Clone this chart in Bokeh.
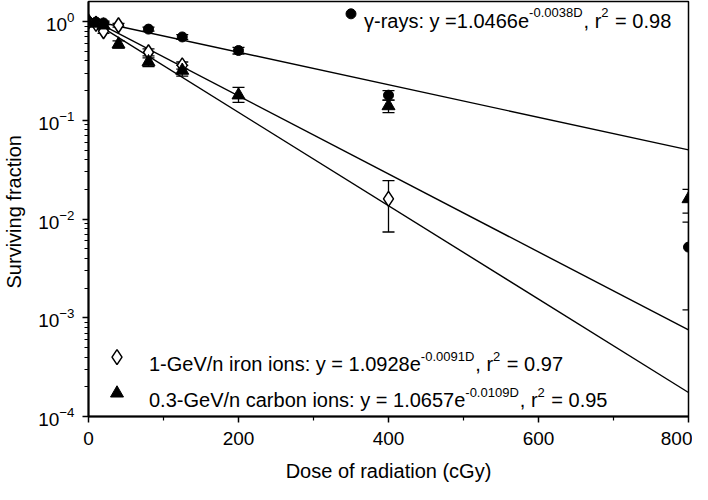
from bokeh.plotting import figure
from bokeh.models import (Range1d, FixedTicker, LogTicker, Whisker,
                          ColumnDataSource, Label, TeeHead)
from bokeh.embed import file_html
from bokeh.resources import INLINE

# ---------------- data ----------------
dose_gamma = [0, 10, 20, 80, 125, 200, 400, 800]
sf_gamma   = [1.00, 0.99, 0.97, 0.84, 0.70, 0.51, 0.18, 0.0052]
lo_gamma   = [0.94, 0.94, 0.93, 0.80, 0.66, 0.47, 0.16, 0.0012]
hi_gamma   = [1.06, 1.04, 1.01, 0.88, 0.74, 0.55, 0.20, 0.0093]

dose_iron = [0, 10, 20, 40, 80, 125, 400]
sf_iron   = [1.00, 0.95, 0.80, 0.92, 0.49, 0.36, 0.016]
lo_iron   = [0.95, 0.90, 0.76, 0.88, 0.45, 0.33, 0.0074]
hi_iron   = [1.05, 1.00, 0.84, 0.96, 0.53, 0.39, 0.0245]

dose_carbon = [0, 10, 20, 40, 80, 125, 200, 400, 800]
sf_carbon   = [1.00, 0.96, 0.92, 0.59, 0.39, 0.32, 0.18, 0.14, 0.016]
lo_carbon   = [0.94, 0.90, 0.86, 0.54, 0.35, 0.28, 0.152, 0.12, 0.0115]
hi_carbon   = [1.06, 1.02, 0.98, 0.64, 0.43, 0.36, 0.216, 0.16, 0.020]

fit_dose   = [0, 800]
fit_gamma  = [1.0466, 0.0503]
fit_iron   = [1.0928, 0.000753]
fit_carbon = [1.0657, 0.000175]

x_ticks = [0, 200, 400, 600, 800]
x_minor = [100, 300, 500, 700]

x_title = "Dose of radiation (cGy)"
y_title = "Surviving  fraction"

NB = "\u00a0"
legend_gamma = [("\u03b3-rays: y =1.0466e", 0), ("-0.0038D", 1), (", r", 0), ("2", 1), (NB + "= 0.98", 0)]
legend_iron = [("1-GeV/n iron ions: y = 1.0928e", 0), ("-0.0091D", 1), (", r", 0), ("2", 1), (NB + "= 0.97", 0)]
legend_carbon = [("0.3-GeV/n carbon ions: y = 1.0657e", 0), ("-0.0109D", 1), (", r", 0), ("2", 1), (NB + "= 0.95", 0)]

# ---------------- figure ----------------
FONT = "Liberation Sans"
p = figure(width=692, height=484, y_axis_type="log",
           x_range=Range1d(0, 800), y_range=Range1d(1e-4, 1.6),
           output_backend="svg", toolbar_location=None,
           min_border_left=78, min_border_right=4, min_border_top=1,
           min_border_bottom=60)
p.grid.visible = False
p.outline_line_color = "black"
p.outline_line_width = 1.5
p.background_fill_color = "white"
p.border_fill_color = "white"

p.xaxis.ticker = FixedTicker(ticks=x_ticks, minor_ticks=x_minor)
p.yaxis.ticker = LogTicker(num_minor_ticks=10)
for ax in (p.xaxis, p.yaxis):
    ax.axis_line_width = 2
    ax.axis_line_color = "black"
    ax.major_tick_line_width = 1.5
    ax.minor_tick_line_width = 1.2
    ax.major_tick_in = 0
    ax.minor_tick_in = 0
    ax.major_tick_out = 6
    ax.minor_tick_out = 4
    ax.major_label_text_font = FONT
    ax.major_label_text_font_size = "19px"
    ax.major_label_text_color = "black"
    ax.axis_label_text_font = FONT
    ax.axis_label_text_font_size = "20px"
    ax.axis_label_text_font_style = "normal"
    ax.axis_label_text_color = "black"
p.xaxis.major_label_standoff = 9
p.xaxis.axis_label_standoff = 12
p.yaxis.major_label_standoff = 8
p.yaxis.axis_label_standoff = 10
p.xaxis.axis_label = x_title
p.yaxis.axis_label = y_title

# fit lines
for fy in (fit_gamma, fit_iron, fit_carbon):
    p.line(fit_dose, fy, line_color="black", line_width=1.4)

def errbars(x, lo, hi):
    src = ColumnDataSource(dict(x=x, lo=lo, hi=hi))
    w = Whisker(base="x", lower="lo", upper="hi", source=src,
                line_color="black", line_width=1.3, level="underlay",
                upper_head=TeeHead(size=12, line_color="black", line_width=1.3),
                lower_head=TeeHead(size=12, line_color="black", line_width=1.3))
    p.add_layout(w)

errbars(dose_gamma, lo_gamma, hi_gamma)
errbars(dose_iron, lo_iron, hi_iron)
errbars(dose_carbon, lo_carbon, hi_carbon)

p.scatter(dose_gamma, sf_gamma, marker="circle", size=10,
          fill_color="black", line_color="black")
p.scatter(dose_iron, sf_iron, marker="diamond", size=15,
          fill_color="white", line_color="black", line_width=1.5)
p.scatter(dose_carbon, sf_carbon, marker="triangle", size=13,
          fill_color="black", line_color="black")

# ---------------- legend text with superscripts ----------------
W = {' ': 278, '\u00a0': 278, '-': 333, '.': 278, ',': 278, ':': 278, '/': 278,
     '=': 584, '(': 333, ')': 333, 'a': 556, 'b': 556, 'c': 500, 'd': 556,
     'e': 556, 'f': 278, 'g': 556, 'i': 222, 'n': 556, 'o': 556, 'r': 333,
     's': 500, 't': 278, 'u': 556, 'v': 500, 'y': 500, 'D': 722, 'G': 778,
     'V': 667, 'S': 667, '\u03b3': 500}
def tw(s, size):
    return sum(W.get(c, 556) for c in s) * size / 1000.0

MAIN, SUP = 20, 13
def legend_line(x, y, marker, pieces, gap, **mk):
    p.scatter([x], [y], marker=marker, **mk)
    off = gap
    for txt, sup in pieces:
        size = SUP if sup else MAIN
        p.add_layout(Label(x=x, y=y, x_offset=off, y_offset=(1 if sup else -7),
                           text=txt, text_font=FONT, text_font_size=f"{size}px",
                           text_baseline="alphabetic", text_align="left",
                           text_color="black"))
        off += tw(txt, size) + (1 if sup else 0)

legend_line(350, 1.2, "circle", legend_gamma, 13, size=10,
            fill_color="black", line_color="black")
legend_line(38, 4.0e-4, "diamond", legend_iron, 32, size=15,
            fill_color="white", line_color="black", line_width=1.5)
legend_line(38, 1.72e-4, "triangle", legend_carbon, 32, size=13,
            fill_color="black", line_color="black")

open("out.html", "w").write(file_html(p, INLINE))
